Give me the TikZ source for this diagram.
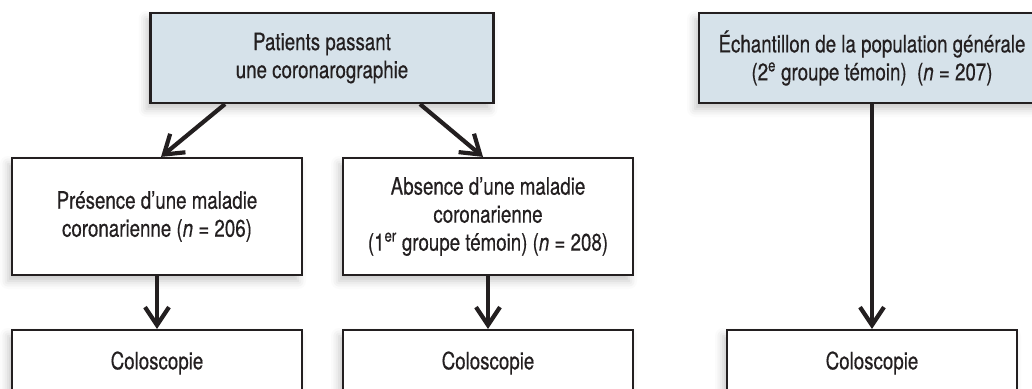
\documentclass[tikz,border=0pt]{standalone}
\usepackage{fontspec}
\setmainfont{TeX Gyre Heros}[FakeStretch=0.78, FakeBold=0.4]
\usetikzlibrary{arrows.meta,calc,shadows.blur}
\definecolor{ink}{HTML}{231F20}
\definecolor{topfill}{HTML}{D6E2EA}
\begin{document}
\begin{tikzpicture}[x=1pt,y=-1pt,
  box/.style={draw=ink, line width=2.2pt, fill=white, align=center, text=ink,
    font=\fontsize{24}{28}\selectfont, inner sep=0pt,
    blur shadow={shadow xshift=-4pt, shadow yshift=-6pt, shadow blur radius=8pt, shadow opacity=22}},
  topbox/.style={box, fill=topfill, minimum width=343pt, minimum height=90pt},
  midbox/.style={box, minimum width=290pt, minimum height=117pt},
  lowbox/.style={box, minimum width=290pt, minimum height=66pt},
  arr/.style={draw=ink, line width=4.2pt, -{Straight Barb[length=18pt,width=24pt]}}]
\useasboundingbox (0,0) rectangle (1032,388);
\clip (0,0) rectangle (1032,388);
\node[topbox] (top) at (322,58) {Patients passant\\une coronarographie};
\node[topbox, minimum width=346pt] (gen) at (872,58) {Échantillon de la population générale\\(2\textsuperscript{e} groupe témoin)\ \ (\textit{n} = 207)};
\node[midbox] (pres) at (157,216.5) {Présence d’une maladie\\coronarienne (\textit{n} = 206)};
\node[midbox] (abs) at (488,216.5) {Absence d’une maladie\\coronarienne\\(1\textsuperscript{er} groupe témoin) (\textit{n} = 208)};
\node[lowbox] (c1) at (157,363) {Coloscopie};
\node[lowbox] (c2) at (488,363) {Coloscopie};
\node[lowbox] (c3) at (872,363) {Coloscopie};
\draw[arr] ($(top.south)+(-97,0)$) -- ($(pres.north)+(4,0)$);
\draw[arr] ($(top.south)+(98,0)$) -- ($(abs.north)+(-5,0)$);
\draw[arr] (pres.south) -- (c1.north);
\draw[arr] (abs.south) -- (c2.north);
\draw[arr] (gen.south) -- (c3.north);
\end{tikzpicture}
\end{document}
